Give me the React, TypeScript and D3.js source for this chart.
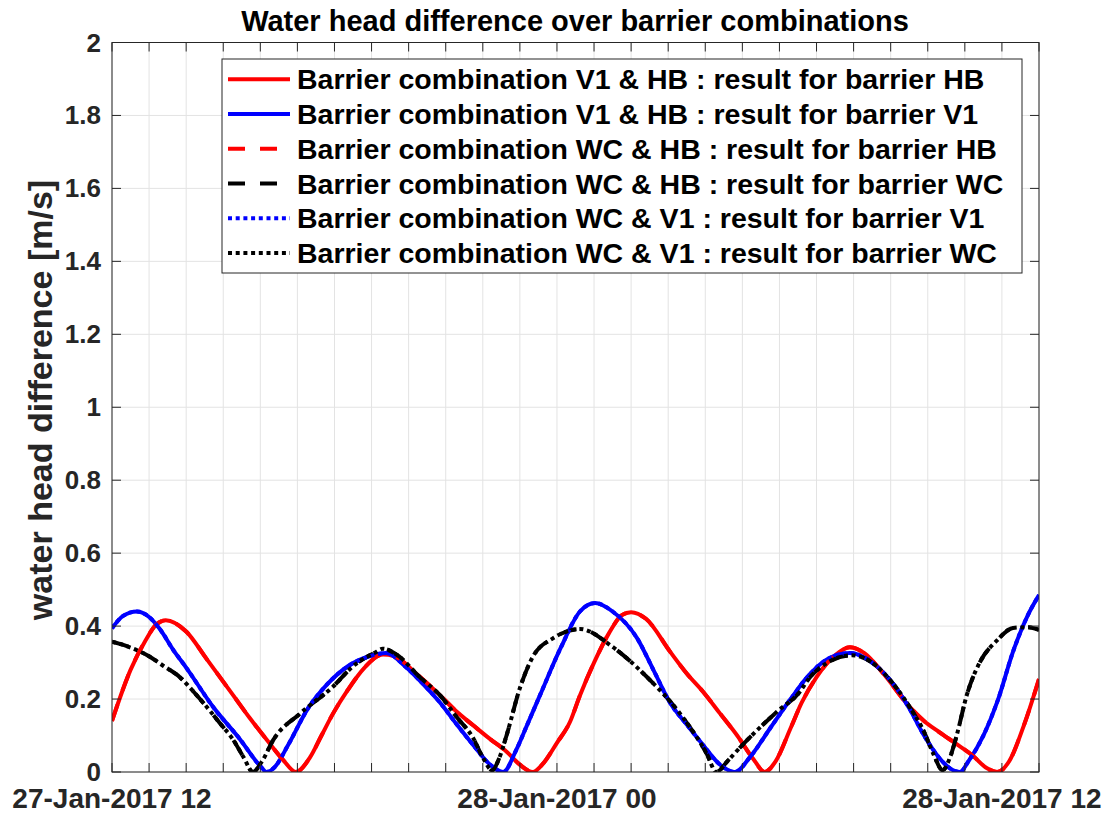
import React from "react";
import * as d3 from "d3";

// hours after 27-Jan-2017 12:00, value [m/s]
const redHB_V1HB: [number, number][] = [
  [0, 0.14], [0.5, 0.28], [0.9, 0.36], [1.2, 0.405], [1.45, 0.416], [2.0, 0.385], [2.55, 0.31],
  [3.27, 0.21], [3.7, 0.15], [4.2, 0.085], [4.6, 0.035], [4.96, 0.0], [5.34, 0.04], [5.65, 0.1],
  [5.96, 0.16], [6.36, 0.225], [6.8, 0.285], [7.31, 0.322], [7.6, 0.318], [8.2, 0.27], [8.85, 0.21],
  [9.3, 0.165], [9.74, 0.128], [10.2, 0.09], [10.65, 0.055], [11.0, 0.02], [11.35, 0.0], [11.6, 0.02],
  [12.0, 0.08], [12.35, 0.137], [12.62, 0.21], [13.0, 0.3], [13.4, 0.38], [13.75, 0.43], [14.0, 0.438],
  [14.4, 0.42], [15.05, 0.33], [15.5, 0.27], [15.94, 0.22], [16.4, 0.16], [16.86, 0.1], [17.3, 0.035],
  [17.6, 0.0], [17.9, 0.03], [18.3, 0.12], [18.6, 0.19], [19.0, 0.26], [19.5, 0.32], [19.9, 0.342],
  [20.3, 0.325], [20.8, 0.27], [21.5, 0.18], [21.9, 0.14], [22.3, 0.11], [22.8, 0.075], [23.2, 0.046],
  [23.6, 0.01], [23.87, 0.0], [24.2, 0.03], [24.6, 0.13], [25, 0.255],
];

const blueV1_V1HB: [number, number][] = [
  [0, 0.394], [0.3, 0.428], [0.67, 0.44], [1.0, 0.425], [1.29, 0.392], [1.65, 0.335], [2.01, 0.285],
  [2.73, 0.178], [3.45, 0.09], [4.0, 0.016], [4.17, 0.0], [4.4, 0.015], [4.75, 0.074], [5.29, 0.175],
  [5.8, 0.24], [6.36, 0.29], [6.9, 0.316], [7.4, 0.326], [7.9, 0.29], [8.4, 0.24], [8.85, 0.19],
  [9.3, 0.13], [9.74, 0.074], [10.2, 0.02], [10.55, 0.0], [10.9, 0.06], [11.2, 0.13], [11.54, 0.21],
  [12.1, 0.34], [12.62, 0.44], [13.03, 0.463], [13.5, 0.44], [14.16, 0.367], [14.6, 0.28], [15.05, 0.19],
  [15.5, 0.13], [15.94, 0.074], [16.4, 0.02], [16.8, 0.0], [17.2, 0.04], [17.75, 0.12], [18.3, 0.2],
  [18.8, 0.266], [19.3, 0.31], [19.9, 0.326], [20.5, 0.3], [21.0, 0.25], [21.5, 0.175], [21.9, 0.1],
  [22.3, 0.04], [22.6, 0.01], [22.87, 0.0], [23.1, 0.03], [23.5, 0.1], [23.9, 0.2], [24.3, 0.33],
  [24.7, 0.43], [25, 0.485],
];

const redHB_WCHB: [number, number][] = redHB_V1HB.map(([h, v]) => [h, v]);

const blackWC_WCHB: [number, number][] = [
  [0, 0.357], [0.4, 0.345], [1.02, 0.316], [1.4, 0.29], [1.83, 0.26], [2.2, 0.22], [2.55, 0.179],
  [2.9, 0.135], [3.27, 0.088], [3.55, 0.04], [3.8, 0.0], [4.05, 0.03], [4.35, 0.088], [5.07, 0.16],
  [5.96, 0.234], [6.5, 0.29], [7.14, 0.33], [7.3, 0.338], [7.7, 0.32], [8.3, 0.26], [8.85, 0.21],
  [9.3, 0.15], [9.74, 0.093], [10.0, 0.04], [10.25, 0.005], [10.45, 0.04], [10.64, 0.1], [11.0, 0.23],
  [11.35, 0.316], [11.9, 0.367], [12.62, 0.392], [13.5, 0.343], [14.42, 0.261], [15.32, 0.16],
  [16.04, 0.05], [16.3, 0.0], [16.6, 0.03], [17.0, 0.074], [17.93, 0.165], [18.55, 0.22], [18.8, 0.257],
  [19.3, 0.3], [19.95, 0.32], [20.5, 0.3], [21.0, 0.25], [21.5, 0.18], [21.9, 0.11], [22.15, 0.05],
  [22.4, 0.005], [22.6, 0.04], [22.78, 0.1], [23.05, 0.21], [23.4, 0.3], [23.86, 0.36], [24.3, 0.395],
  [24.7, 0.397], [25, 0.39],
];

const blueV1_WCV1: [number, number][] = blueV1_V1HB.map(([h, v]) => [h, v]);
const blackWC_WCV1: [number, number][] = blackWC_WCHB.map(([h, v]) => [h, v]);

const seriesNames = [
  "Barrier combination V1 & HB : result for barrier HB",
  "Barrier combination V1 & HB : result for barrier V1",
  "Barrier combination WC & HB : result for barrier HB",
  "Barrier combination WC & HB : result for barrier WC",
  "Barrier combination WC & V1 : result for barrier V1",
  "Barrier combination WC & V1 : result for barrier WC",
];
const seriesData = [redHB_V1HB, blueV1_V1HB, redHB_WCHB, blackWC_WCHB, blueV1_WCV1, blackWC_WCV1];
const seriesColors = ["#ff0000", "#0000ff", "#ff0000", "#000000", "#0000ff", "#000000"];
const seriesDash = ["", "", "17,15", "17,15", "4,3.7", "4,3.7"];

const yTicks = [0, 0.2, 0.4, 0.6, 0.8, 1, 1.2, 1.4, 1.6, 1.8, 2];
const startTime = Date.UTC(2017, 0, 27, 12);
const endTime = Date.UTC(2017, 0, 28, 13);

const W = 1113, H = 814;
const L = 112, R = 1039, T = 42.5, B = 772;
const FONT = "'Liberation Sans', Arial, Helvetica, sans-serif";
const AX = "#262626";

export default function App() {
  const x = d3.scaleUtc().domain([new Date(startTime), new Date(endTime)]).range([L, R]);
  const y = d3.scaleLinear().domain([0, 2]).range([B, T]);
  const hourDate = (h: number) => new Date(startTime + h * 3600000);
  const line = d3
    .line<[number, number]>()
    .x((d) => x(hourDate(d[0])))
    .y((d) => y(d[1]))
    .curve(d3.curveMonotoneX);
  const xTicks = x.ticks(d3.utcHour.every(1)!);
  const fmt = d3.utcFormat("%d-%b-%Y %H");
  const tickLen = 9;
  const legX = 222, legY = 59, legW = 800, legH = 214;
  const rowY = (i: number) => 79.3 + i * 34.75;

  return (
    <svg width={W} height={H} style={{ display: "block", position: "absolute", left: 0, top: 0 }} fontFamily={FONT}>
      <rect x={0} y={0} width={W} height={H} fill="#fff" />
      <defs>
        <clipPath id="plotclip">
          <rect x={L} y={T} width={R - L} height={B - T} />
        </clipPath>
      </defs>
      {/* grid */}
      {xTicks.map((t, i) => (
        <line key={"gx" + i} x1={x(t)} x2={x(t)} y1={T} y2={B} stroke="#e3e3e3" strokeWidth={1} />
      ))}
      {yTicks.map((v, i) => (
        <line key={"gy" + i} x1={L} x2={R} y1={y(v)} y2={y(v)} stroke="#e3e3e3" strokeWidth={1} />
      ))}
      {/* data */}
      <g clipPath="url(#plotclip)">
        {seriesData.map((d, i) => (
          <path
            key={"s" + i}
            d={line(d) || ""}
            fill="none"
            stroke={seriesColors[i]}
            strokeWidth={4}
            strokeDasharray={seriesDash[i] || undefined}
            strokeLinejoin="round"
          />
        ))}
      </g>
      {/* box */}
      <rect x={L} y={T} width={R - L} height={B - T} fill="none" stroke={AX} strokeWidth={1} />
      {/* ticks */}
      {xTicks.map((t, i) => (
        <g key={"tx" + i}>
          <line x1={x(t)} x2={x(t)} y1={B} y2={B - tickLen} stroke={AX} />
          <line x1={x(t)} x2={x(t)} y1={T} y2={T + tickLen} stroke={AX} />
        </g>
      ))}
      {yTicks.map((v, i) => (
        <g key={"ty" + i}>
          <line x1={L} x2={L + tickLen} y1={y(v)} y2={y(v)} stroke={AX} />
          <line x1={R} x2={R - tickLen} y1={y(v)} y2={y(v)} stroke={AX} />
          <text x={101} y={y(v) + 9} textAnchor="end" fontSize={26} fontWeight="bold" fill={AX}>
            {String(v)}
          </text>
        </g>
      ))}
      {xTicks
        .filter((t) => t.getUTCHours() % 12 === 0)
        .map((t, i) => (
          <text key={"lx" + i} x={x(t)} y={808} textAnchor="middle" fontSize={28} fontWeight="bold" fill={AX}>
            {fmt(t)}
          </text>
        ))}
      {/* y label */}
      <text
        transform={`translate(52, 400) rotate(-90)`}
        textAnchor="middle"
        fontSize={34}
        fontWeight="bold"
        fill={AX}
      >
        water head difference [m/s]
      </text>
      {/* title */}
      <text x={575} y={31} textAnchor="middle" fontSize={29} fontWeight="bold" fill="#000">
        Water head difference over barrier combinations
      </text>
      {/* legend */}
      <rect x={legX} y={legY} width={legW} height={legH} fill="#fff" stroke={AX} strokeWidth={1} />
      {seriesNames.map((name, i) => (
        <g key={"lg" + i}>
          <line
            x1={228}
            x2={290}
            y1={rowY(i)}
            y2={rowY(i)}
            stroke={seriesColors[i]}
            strokeWidth={4}
            strokeDasharray={seriesDash[i] || undefined}
          />
          <text x={297} y={rowY(i) + 10} fontSize={28.5} fontWeight="bold" fill="#000">
            {name}
          </text>
        </g>
      ))}
    </svg>
  );
}
